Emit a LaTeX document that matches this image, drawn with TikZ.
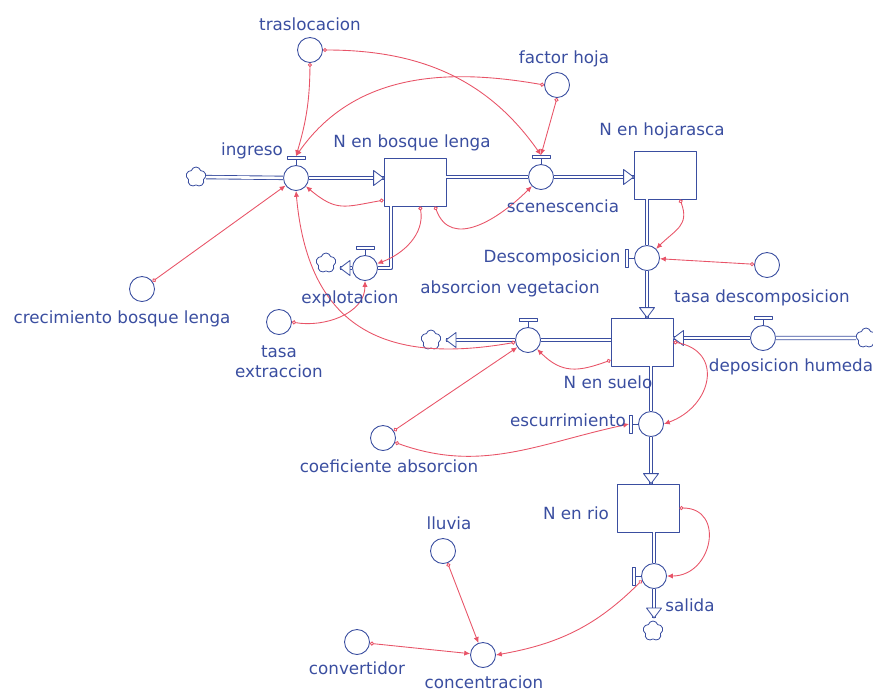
\documentclass[tikz,border=0pt]{standalone}
\usepackage{fontspec}
\setmainfont{DejaVu Sans}
\usetikzlibrary{arrows.meta,shapes.symbols}
\definecolor{sdblue}{RGB}{58,78,160}
\definecolor{sdred}{RGB}{232,84,104}

\begin{document}
\begin{tikzpicture}[x=0.03cm,y=-0.03cm,line join=round,
  font=\fontsize{14.3}{17}\selectfont,
  stock/.style={draw=sdblue,line width=0.7pt,fill=white,minimum width=1.86cm,minimum height=1.44cm,inner sep=0pt},
  aux/.style={circle,draw=sdblue,line width=0.75pt,fill=white,minimum size=0.75cm,inner sep=0pt},
  cloudy/.style={cloud,cloud puffs=5,aspect=1,draw=sdblue,line width=0.7pt,fill=white,minimum width=0.6cm,minimum height=0.6cm,inner sep=0.1cm},
  txt/.style={text=sdblue,inner sep=0pt},
  pipe/.style={draw=sdblue,line width=0.75pt,double=white,double distance=2.2pt},
  pipehead/.style={draw=sdblue,line width=0.7pt,fill=white},
  valvebar/.style={draw=sdblue,line width=0.65pt,fill=white},
  link/.style={draw=sdred,line width=0.75pt,{Circle[open,length=3.5pt]}-{Latex[length=5pt,width=4.5pt]}}]
\useasboundingbox (0,0) rectangle (873,692);

% stocks
\node[stock] (bosque) at (415,182) {};
\node[stock] (hoja) at (665,175) {};
\node[stock] (suelo) at (642,342) {};
\node[stock] (rio) at (648,508) {};

% valves
\node[aux] (ingreso) at (296,178) {};
\node[aux] (scen) at (541,177) {};
\node[aux] (explot) at (365,268) {};
\node[aux] (desc) at (647,258) {};
\node[aux] (absorc) at (528,340) {};
\node[aux] (depos) at (763,338) {};
\node[aux] (escurr) at (651,424) {};
\node[aux] (salida) at (654,576) {};

% converters
\node[aux] (trasl) at (310,50) {};
\node[aux] (factor) at (557,85) {};
\node[aux] (crec) at (142,289) {};
\node[aux] (tasaext) at (279,322) {};
\node[aux] (tasadesc) at (767,265) {};
\node[aux] (coef) at (383,438) {};
\node[aux] (lluvia) at (443,551) {};
\node[aux] (conv) at (357,642) {};
\node[aux] (conc) at (483,655) {};

% clouds
\node[cloudy] (c1) at (196,177) {};
\node[cloudy] (c2) at (326,263) {};
\node[cloudy] (c3) at (431,340) {};
\node[cloudy] (c4) at (866,338) {};
\node[cloudy] (c5) at (653,631) {};
\coordinate (t2) at (340,268);
\coordinate (t3) at (446,340);
\coordinate (t5) at (654,618);

% pipes
\draw[pipe] (c1) -- (ingreso);
\draw[pipe] (ingreso) -- (ingreso -| bosque.west);
\draw[pipehead] (ingreso -| bosque.west) -- ++(-10,-7.5) -- ++(0,15) -- cycle;
\draw[pipe] (bosque.east |- scen) -- (scen);
\draw[pipe] (scen) -- (scen -| hoja.west);
\draw[pipehead] (scen -| hoja.west) -- ++(-10,-7.5) -- ++(0,15) -- cycle;
\draw[pipe] ([shift={(-24,0)}]bosque.south) |- (explot.east);
\draw[pipe] (explot) -- (t2);
\draw[pipehead] (t2) -- ++(10,-7.5) -- ++(0,15) -- cycle;
\draw[pipe] (desc |- hoja.south) -- (desc);
\draw[pipe] (desc) -- (desc |- suelo.north);
\draw[pipehead] (desc |- suelo.north) -- ++(-7.5,-10) -- ++(15,0) -- cycle;
\draw[pipe] (suelo.west |- absorc) -- (absorc);
\draw[pipe] (absorc) -- (t3);
\draw[pipehead] (t3) -- ++(10,-7.5) -- ++(0,15) -- cycle;
\draw[pipe] (c4) -- (depos);
\draw[pipe] (depos) -- (depos -| suelo.east);
\draw[pipehead] (depos -| suelo.east) -- ++(10,-7.5) -- ++(0,15) -- cycle;
\draw[pipe] (escurr |- suelo.south) -- (escurr);
\draw[pipe] (escurr) -- (escurr |- rio.north);
\draw[pipehead] (escurr |- rio.north) -- ++(-7.5,-10) -- ++(15,0) -- cycle;
\draw[pipe] (salida |- rio.south) -- (salida);
\draw[pipe] (salida) -- (t5);
\draw[pipehead] (t5) -- ++(-7.5,-10) -- ++(15,0) -- cycle;

% valve handles
\foreach \v in {ingreso,scen,explot,absorc,depos}{
  \draw[valvebar] (\v.north) -- ++(0,-6);
  \draw[valvebar] ([shift={(-9,-6)}]\v.north) rectangle ++(18,-3);
  \coordinate (\v-h) at ([shift={(0,-9)}]\v.north);
}
\foreach \v in {desc,escurr,salida}{
  \draw[valvebar] (\v.west) -- ++(-6,0);
  \draw[valvebar] ([shift={(-6,-9)}]\v.west) rectangle ++(-3,18);
  \coordinate (\v-h) at ([shift={(-9,0)}]\v.west);
}

% links
\draw[link] (trasl.south) to[bend left=8] (ingreso-h);
\draw[link] (trasl.east) to[out=0,in=125] (scen-h);
\draw[link] (factor.west) to[out=170,in=55] (ingreso-h);
\draw[link] (factor.south) -- (scen-h);
\draw[link] (bosque.-150) to[out=190,in=-40,looseness=1.3] (ingreso.-40);
\draw[link] ([shift={(20,0)}]bosque.south) to[out=-70,in=-135,looseness=1.2] (scen.-135);
\draw[link] ([shift={(5,0)}]bosque.south) to[out=-80,in=20] (explot.20);
\draw[link] (crec) -- (ingreso);
\draw[link] (absorc.190) to[out=190,in=-85,looseness=1.3] (ingreso.south);
\draw[link] (tasaext.east) to[out=-10,in=-90] (explot.south);
\draw[link] (coef) -- (absorc);
\draw[link] (suelo.-150) to[out=200,in=-45,looseness=1.2] (absorc.-45);
\draw[link] (coef.-20) to[out=-20,in=192] (escurr-h);
\draw[link] (suelo.east) to[out=-10,in=20,looseness=1.6] (escurr.east);
\draw[link] ([shift={(15,0)}]hoja.south) to[out=-70,in=45,looseness=1.3] (desc.45);
\draw[link] (tasadesc) -- (desc);
\draw[link] (rio.east) to[out=0,in=0,looseness=1.7] (salida.east);
\draw[link] (salida.200) to[out=225,in=10] (conc.east);
\draw[link] (lluvia) -- (conc);
\draw[link] (conv) -- (conc);

% labels
\node[txt] (ltrasl) at (310,24) {traslocacion};
\node[txt] (lfactor) at (564,59) {factor hoja};
\node[txt] (lingreso) at (252,151) {ingreso};
\node[txt] (lbosque) at (412,143) {N en bosque lenga};
\node[txt] (lhoja) at (662,131) {N en hojarasca};
\node[txt] (lscen) at (563,206) {scenescencia};
\node[txt] (ldesc) at (552,258) {Descomposicion};
\node[txt] (labsorc) at (510,289) {absorcion vegetacion};
\node[txt] (lexplot) at (350,299) {explotacion};
\node[txt] (lcrec) at (122,319) {crecimiento bosque lenga};
\node[txt,align=center] (ltasaext) at (279,362) {tasa\\extraccion};
\node[txt] (ltasadesc) at (762,298) {tasa descomposicion};
\node[txt] (lsuelo) at (608,382) {N en suelo};
\node[txt] (ldepos) at (791,367) {deposicion humeda};
\node[txt] (lescurr) at (568,420) {escurrimiento};
\node[txt] (lcoef) at (389,466) {coeficiente absorcion};
\node[txt] (lrio) at (576,513) {N en rio};
\node[txt] (lsalida) at (690,605) {salida};
\node[txt] (llluvia) at (449,523) {lluvia};
\node[txt] (lconv) at (357,668) {convertidor};
\node[txt] (lconc) at (484,682) {concentracion};
\end{tikzpicture}
\end{document}
